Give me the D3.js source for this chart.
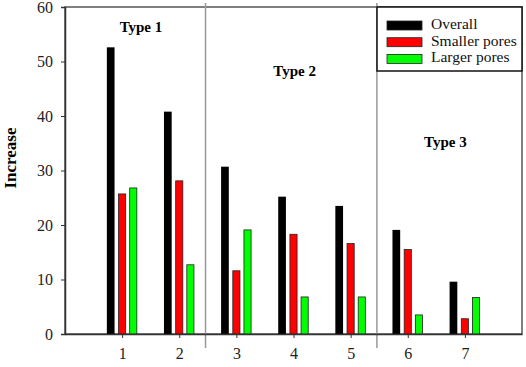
<!DOCTYPE html>
<html>
<head>
<meta charset="utf-8">
<script src="https://cdn.jsdelivr.net/npm/d3@7"></script>
<style>
  body { margin: 0; background: #fff; }
</style>
</head>
<body>
<div id="chart"></div>
<script>
const categories = [1, 2, 3, 4, 5, 6, 7];
const overall = [52.6, 40.8, 30.7, 25.2, 23.5, 19.1, 9.6];
const smallerPores = [25.7, 28.1, 11.6, 18.3, 16.6, 15.5, 2.8];
const largerPores = [26.8, 12.7, 19.1, 6.8, 6.8, 3.5, 6.7];
const seriesNames = ["Overall", "Smaller pores", "Larger pores"];
const seriesColors = ["#000000", "#ff0000", "#00ff00"];
const yTicks = [0, 10, 20, 30, 40, 50, 60];
const dividers = [2.46, 5.46];
const typeLabels = [
  { label: "Type 1", x: 1.33, y: 56 },
  { label: "Type 2", x: 4.02, y: 48 },
  { label: "Type 3", x: 6.66, y: 35 }
];

const serif = "'Times New Roman', 'Liberation Serif', 'DejaVu Serif', serif";
const width = 526, height = 367;
const mLeft = 65, mRight = 522, mTop = 7, mBottom = 334;

const svg = d3.select("#chart").append("svg")
  .attr("width", width)
  .attr("height", height)
  .style("font-family", serif);

const x = d3.scaleLinear().domain([0, 8]).range([mLeft, mRight]);
const y = d3.scaleLinear().domain([0, 60]).range([mBottom, mTop]);

// frame
svg.append("rect")
  .attr("x", mLeft).attr("y", mTop)
  .attr("width", mRight - mLeft).attr("height", mBottom - mTop)
  .attr("fill", "none")
  .attr("stroke", "#555")
  .attr("stroke-width", 1.5);

// dividers between types
svg.append("g")
  .selectAll("line")
  .data(dividers)
  .join("line")
  .attr("x1", d => x(d)).attr("x2", d => x(d))
  .attr("y1", mTop - 4).attr("y2", mBottom + 14)
  .attr("stroke", "#999")
  .attr("stroke-width", 1.5);

// bars
const series = [overall, smallerPores, largerPores];
const offsets = [-0.2, 0, 0.195];
const barW = [0.135, 0.125, 0.125];

series.forEach((vals, s) => {
  svg.append("g")
    .selectAll("rect")
    .data(vals)
    .join("rect")
    .attr("x", (d, i) => x(categories[i] + offsets[s] - barW[s] / 2))
    .attr("width", x(barW[s]) - x(0))
    .attr("y", d => y(d))
    .attr("height", d => y(0) - y(d))
    .attr("fill", seriesColors[s])
    .attr("stroke", s === 0 ? "none" : "#222")
    .attr("stroke-width", 0.8);
});

// axes
const yAxis = svg.append("g")
  .attr("transform", `translate(${mLeft},0)`)
  .call(d3.axisLeft(y).tickValues(yTicks).tickSize(4).tickPadding(8));
yAxis.attr("font-family", null);
yAxis.select(".domain").attr("stroke", "#333").attr("stroke-width", 1.5);
yAxis.selectAll(".tick line").attr("stroke", "#333");
yAxis.selectAll("text").attr("font-size", 16).attr("fill", "#222").style("font-family", serif);

const xAxis = svg.append("g")
  .attr("transform", `translate(0,${mBottom})`)
  .call(d3.axisBottom(x).tickValues(categories).tickSize(4).tickPadding(10).tickSizeOuter(0));
xAxis.attr("font-family", null);
xAxis.select(".domain").attr("stroke", "#333").attr("stroke-width", 1.5);
xAxis.selectAll(".tick line").attr("stroke", "#333");
xAxis.selectAll("text").attr("font-size", 16).attr("fill", "#222").style("font-family", serif);

// y label
svg.append("text")
  .attr("transform", `translate(16,158) rotate(-90)`)
  .attr("text-anchor", "middle")
  .attr("font-size", 17)
  .attr("font-weight", "bold")
  .text("Increase");

// type labels
svg.append("g")
  .selectAll("text")
  .data(typeLabels)
  .join("text")
  .attr("x", d => x(d.x))
  .attr("y", d => y(d.y))
  .attr("text-anchor", "middle")
  .attr("dominant-baseline", "middle")
  .attr("font-size", 15)
  .attr("font-weight", "bold")
  .text(d => d.label);

// legend
const lg = svg.append("g");
lg.append("rect")
  .attr("x", 377).attr("y", mTop)
  .attr("width", mRight - 377).attr("height", 64)
  .attr("fill", "#fff")
  .attr("stroke", "#111")
  .attr("stroke-width", 1.5);
const items = lg.selectAll("g.item")
  .data(seriesNames)
  .join("g")
  .attr("class", "item")
  .attr("transform", (d, i) => `translate(0,${25.5 + i * 16.7})`);
items.append("rect")
  .attr("x", 387).attr("y", -4.5)
  .attr("width", 35).attr("height", 9)
  .attr("fill", (d, i) => seriesColors[i])
  .attr("stroke", "#222")
  .attr("stroke-width", 0.8);
items.append("text")
  .attr("x", 431).attr("y", 0)
  .attr("dominant-baseline", "middle")
  .attr("font-size", 15.5)
  .attr("fill", "#111")
  .text(d => d);
</script>
</body>
</html>
